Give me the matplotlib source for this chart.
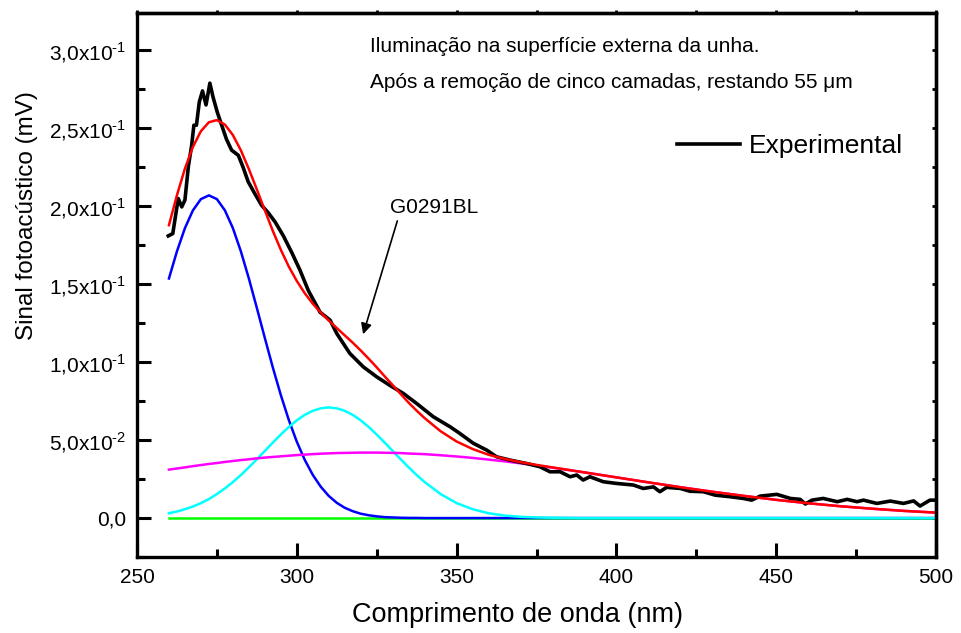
import numpy as np
import matplotlib
matplotlib.use("Agg")
import matplotlib.pyplot as plt
from matplotlib.ticker import MultipleLocator, NullFormatter

plt.rcParams['font.family'] = ['Liberation Sans', 'DejaVu Sans']
plt.rcParams['mathtext.fontset'] = 'custom'
plt.rcParams['mathtext.rm'] = 'Liberation Sans'

# experimental spectrum
exp_x = [259.8, 261.2, 262.9, 264.0, 265.0, 266.1, 267.1, 267.8, 268.6, 269.5,
         270.5, 271.6, 272.8, 273.8, 275.1, 276.5, 278.0, 279.6, 281.7, 283.2,
         284.8, 286.9, 289.0, 291.0, 293.2, 295.8, 298.5, 301.0, 303.6, 307.3,
         310.4, 312.5, 316.6, 320.8, 325.0, 329.2, 333.3, 337.5, 342.7, 348.0,
         351.0, 355.2, 359.4, 362.5, 366.7, 371.9, 376.1, 379.2, 382.4, 385.5,
         387.6, 389.6, 391.7, 395.9, 400.1, 405.3, 408.4, 411.6, 413.6, 415.7,
         420.0, 423.0, 427.2, 430.9, 435.5, 439.7, 442.3, 445.0, 450.2, 454.4,
         457.5, 459.1, 461.2, 464.7, 469.1, 472.2, 475.3, 477.3, 481.5, 485.7,
         489.8, 493.0, 495.0, 498.1, 499.7]
exp_y = [0.181, 0.1825, 0.205, 0.1996, 0.204, 0.226, 0.239, 0.252, 0.252, 0.267,
         0.274, 0.265, 0.279, 0.270, 0.2605, 0.252, 0.243, 0.236, 0.2327, 0.225,
         0.2157, 0.208, 0.2006, 0.196, 0.190, 0.181, 0.170, 0.159, 0.146, 0.132,
         0.127, 0.1184, 0.1056, 0.097, 0.0906, 0.085, 0.080, 0.0735, 0.065, 0.0585,
         0.0543, 0.048, 0.0436, 0.0393, 0.0372, 0.035, 0.0329, 0.0297, 0.0297, 0.0265,
         0.0276, 0.0244, 0.0265, 0.0233, 0.0222, 0.0212, 0.019, 0.020, 0.0169, 0.0197,
         0.019, 0.0172, 0.0169, 0.0147, 0.0137, 0.0126, 0.0115, 0.0141, 0.0152, 0.0126,
         0.012, 0.009, 0.0115, 0.0126, 0.0105, 0.012, 0.0105, 0.0115, 0.0094, 0.0109,
         0.0094, 0.011, 0.0077, 0.0115, 0.0115]

# fitted gaussian components on a common wavelength grid
fit_x = [260, 262.5, 265, 267.5, 270, 272.5, 275, 277.5, 280, 282.5,
         285, 287.5, 290, 292.5, 295, 297.5, 300, 302.5, 305, 307.5,
         310, 312.5, 315, 317.5, 320, 322.5, 325, 327.5, 330, 332.5,
         335, 337.5, 340, 345, 350, 355, 360, 365, 370, 375,
         380, 385, 390, 395, 400, 410, 420, 430, 440, 450,
         460, 470, 480, 490, 500]
blue = [0.1537, 0.1711, 0.1860, 0.1974, 0.2046, 0.2070, 0.2046, 0.1974, 0.1860, 0.1711,
        0.1537, 0.1348, 0.1155, 0.0966, 0.0789, 0.0629, 0.0490, 0.0373, 0.0277, 0.0201,
        0.0142, 0.0098, 0.0066, 0.0044, 0.0028, 0.0018, 0.0011, 0.0006, 0.0004, 0.0002,
        0.0001, 0.0001, 0, 0, 0, 0, 0, 0, 0, 0,
        0, 0, 0, 0, 0, 0, 0, 0, 0, 0,
        0, 0, 0, 0, 0]
cyan = [0.0031, 0.0042, 0.0057, 0.0074, 0.0096, 0.0122, 0.0154, 0.0190, 0.0231, 0.0276,
        0.0325, 0.0377, 0.0431, 0.0484, 0.0536, 0.0584, 0.0627, 0.0662, 0.0688, 0.0704,
        0.0710, 0.0704, 0.0688, 0.0662, 0.0627, 0.0584, 0.0536, 0.0484, 0.0431, 0.0377,
        0.0325, 0.0276, 0.0231, 0.0154, 0.0096, 0.0057, 0.0031, 0.0016, 0.0008, 0.0004,
        0.0002, 0.0001, 0, 0, 0, 0, 0, 0, 0, 0,
        0, 0, 0, 0, 0]
magenta = [0.0311, 0.0318, 0.0325, 0.0333, 0.0340, 0.0347, 0.0353, 0.0360, 0.0366, 0.0372,
           0.0377, 0.0383, 0.0388, 0.0392, 0.0396, 0.0400, 0.0404, 0.0407, 0.0410, 0.0413,
           0.0415, 0.0417, 0.0418, 0.0419, 0.0420, 0.0420, 0.0420, 0.0419, 0.0418, 0.0417,
           0.0414, 0.0412, 0.0410, 0.0403, 0.0395, 0.0386, 0.0375, 0.0364, 0.0351, 0.0337,
           0.0323, 0.0308, 0.0293, 0.0277, 0.0261, 0.0229, 0.0198, 0.0169, 0.0142, 0.0117,
           0.0095, 0.0076, 0.0060, 0.0046, 0.0035]
green = [0.0] * len(fit_x)

y_ticks = [0.0, 0.05, 0.10, 0.15, 0.20, 0.25, 0.30]
y_tick_labels = ['0,0', r'5,0x10$^{\text{-2}}$', r'1,0x10$^{\text{-1}}$',
                 r'1,5x10$^{\text{-1}}$', r'2,0x10$^{\text{-1}}$',
                 r'2,5x10$^{\text{-1}}$', r'3,0x10$^{\text{-1}}$']
x_ticks = [250, 300, 350, 400, 450, 500]

# cumulative fit = sum of components
red = np.array(blue) + np.array(cyan) + np.array(magenta) + np.array(green)

fig = plt.figure(figsize=(9.62, 6.33), dpi=100)
ax = fig.add_axes([0.1424, 0.12, 0.8306, 0.8595])

ax.plot(fit_x, green, color='#00ff00', lw=1.8)
ax.plot(fit_x, blue, color='#0000ff', lw=1.8)
ax.plot(fit_x, cyan, color='#00ffff', lw=1.8)
ax.plot(fit_x, magenta, color='#ff00ff', lw=1.8)
ax.plot(exp_x, exp_y, color='black', lw=2.6, label='Experimental')
ax.plot(fit_x, red, color='#ff0000', lw=1.8)

ax.set_xlim(250, 500)
ax.set_ylim(-0.025, 0.324)
ax.set_xticks(x_ticks)
ax.xaxis.set_minor_locator(MultipleLocator(25))
ax.set_yticks(y_ticks)
ax.set_yticklabels(y_tick_labels)
ax.yaxis.set_minor_locator(MultipleLocator(0.025))

for s in ax.spines.values():
    s.set_linewidth(2.4)
ax.tick_params(which='both', direction='in', width=2.2, labelsize=15, pad=8)
ax.tick_params(which='major', length=10)
ax.tick_params(which='minor', length=6)

# short ticks on the opposite axes
top = ax.secondary_xaxis('top')
top.set_xticks(np.arange(250, 501, 25))
top.xaxis.set_major_formatter(NullFormatter())
top.tick_params(direction='out', length=2.5, width=2)
right = ax.secondary_yaxis('right')
right.set_yticks(np.arange(-0.025, 0.325, 0.025))
right.yaxis.set_major_formatter(NullFormatter())
right.tick_params(direction='in', length=3, width=2)
top.spines['top'].set_linewidth(2.4)
right.spines['right'].set_linewidth(2.4)

ax.set_xlabel('Comprimento de onda (nm)', fontsize=19.5)
ax.xaxis.set_label_coords(0.4756, -0.083)
ax.xaxis.label.set_va('top')
ax.set_ylabel('Sinal fotoacústico (mV)', fontsize=17.5)
ax.yaxis.set_label_coords(-0.124, 0.627)

ax.text(323, 0.3026, 'Iluminação na superfície externa da unha.', fontsize=15,
        va='center', ha='left')
ax.text(323, 0.2795, 'Após a remoção de cinco camadas, restando 55 \u03bcm', fontsize=15,
        va='center', ha='left')

ax.annotate('', xy=(320.5, 0.1162), xytext=(331.7, 0.1923),
            arrowprops=dict(arrowstyle='-|>', color='black', lw=1.2,
                            mutation_scale=16))
ax.text(329.2, 0.1995, 'G0291BL', fontsize=15, va='center', ha='left')

ax.legend(loc='center left', bbox_to_anchor=(0.676, 0.7555), frameon=False,
          fontsize=19, handlelength=2.4, handletextpad=0.3, borderpad=0,
          borderaxespad=0)

fig.savefig('out.png', dpi=100)
